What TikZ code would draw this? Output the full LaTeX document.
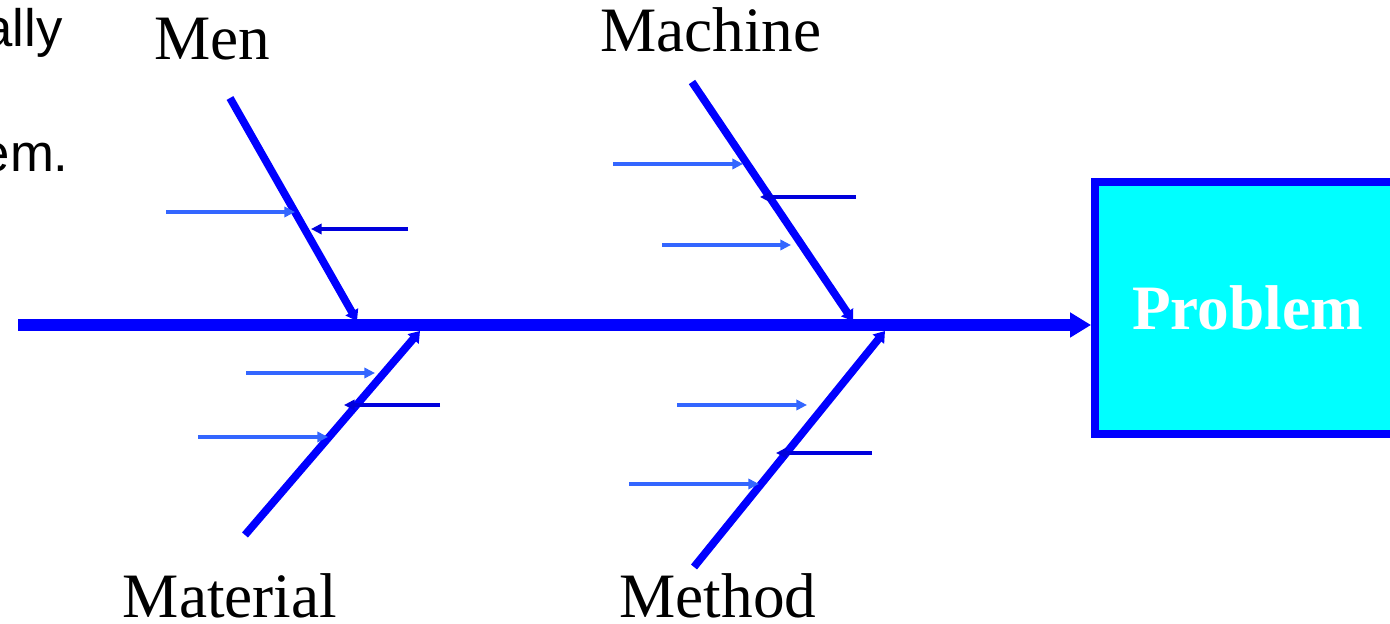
\documentclass[tikz,border=0pt]{standalone}
\usepackage{fontspec}
\setmainfont{Liberation Serif}
\newfontfamily\arialfont{Liberation Sans}
\usetikzlibrary{arrows.meta}
\definecolor{spineblue}{RGB}{0,0,255}
\definecolor{lightarr}{RGB}{51,102,255}
\definecolor{darkarr}{RGB}{0,0,220}
\definecolor{boxcyan}{RGB}{0,255,255}
\tikzset{
  spine/.style={draw=spineblue, line width=7pt, -{Triangle[length=12pt,width=13.6pt]}},
  bone/.style={draw=spineblue, line width=4.4pt, -{Triangle[length=6pt,width=8pt]}},
  lightcause/.style={draw=lightarr, line width=1.8pt, -{Triangle[length=6pt,width=5.8pt]}},
  darkcause/.style={draw=darkarr, line width=1.8pt, -{Triangle[length=6pt,width=5.8pt]}},
  label/.style={font=\fontsize{36pt}{40pt}\selectfont, text=black, anchor=base, inner sep=0pt},
  sidetext/.style={font=\arialfont\fontsize{30pt}{34pt}\selectfont, text=black, anchor=base east, inner sep=0pt},
  problembox/.style={draw=spineblue, fill=boxcyan, line width=4.5pt, minimum width=6.1cm, minimum height=5.04cm,
    font=\bfseries\fontsize{36pt}{40pt}\selectfont, text=white, inner sep=0pt},
}
\begin{document}
\begin{tikzpicture}[x=0.02cm,y=-0.02cm]
\useasboundingbox (0,0) rectangle (1390,624);
\clip (0,0) rectangle (1390,624);
% side text (partially cut off, as in the reference)
\node[sidetext] (t1) at (63,47) {ally};
\node[sidetext] (t2) at (69,172) {em.};
% problem box
\node[problembox] (problem) at (1247.5,308) {Problem};
% spine
\coordinate (tail) at (18,325);
\draw[spine] (tail) -- (problem.west |- tail);
% bone coordinates
\coordinate (menS) at (230,98);   \coordinate (menE) at (357,321);
\coordinate (macS) at (692,82);   \coordinate (macE) at (853,321);
\coordinate (matS) at (245,535);  \coordinate (matE) at (420,331);
\coordinate (metS) at (694,567);  \coordinate (metE) at (885,331);
\draw[bone] (menS) -- (menE);
\draw[bone] (macS) -- (macE);
\draw[bone] (matS) -- (matE);
\draw[bone] (metS) -- (metE);
% labels
\node[label] (men) at (212,60) {Men};
\node[label] (machine) at (711,52) {Machine};
\node[label] (material) at (230,618) {Material};
\node[label] (method) at (718,618) {Method};
% causes: Men
\coordinate (a1s) at (166,212); \coordinate (a1e) at (295,212);
\coordinate (a2s) at (408,229); \coordinate (a2e) at (311,229);
\draw[lightcause] (a1s) -- (a1e);
\draw[darkcause] (a2s) -- (a2e);
% causes: Machine
\coordinate (b1s) at (613,164); \coordinate (b1e) at (743,164);
\coordinate (b2s) at (856,197); \coordinate (b2e) at (760,197);
\coordinate (b3s) at (662,245); \coordinate (b3e) at (791,245);
\draw[lightcause] (b1s) -- (b1e);
\draw[darkcause] (b2s) -- (b2e);
\draw[lightcause] (b3s) -- (b3e);
% causes: Material
\coordinate (c1s) at (246,373); \coordinate (c1e) at (375,373);
\coordinate (c2s) at (440,405); \coordinate (c2e) at (344,405);
\coordinate (c3s) at (198,437); \coordinate (c3e) at (328,437);
\draw[lightcause] (c1s) -- (c1e);
\draw[darkcause] (c2s) -- (c2e);
\draw[lightcause] (c3s) -- (c3e);
% causes: Method
\coordinate (d1s) at (677,405); \coordinate (d1e) at (807,405);
\coordinate (d2s) at (872,453); \coordinate (d2e) at (776,453);
\coordinate (d3s) at (629,484); \coordinate (d3e) at (759,484);
\draw[lightcause] (d1s) -- (d1e);
\draw[darkcause] (d2s) -- (d2e);
\draw[lightcause] (d3s) -- (d3e);
\end{tikzpicture}
\end{document}
